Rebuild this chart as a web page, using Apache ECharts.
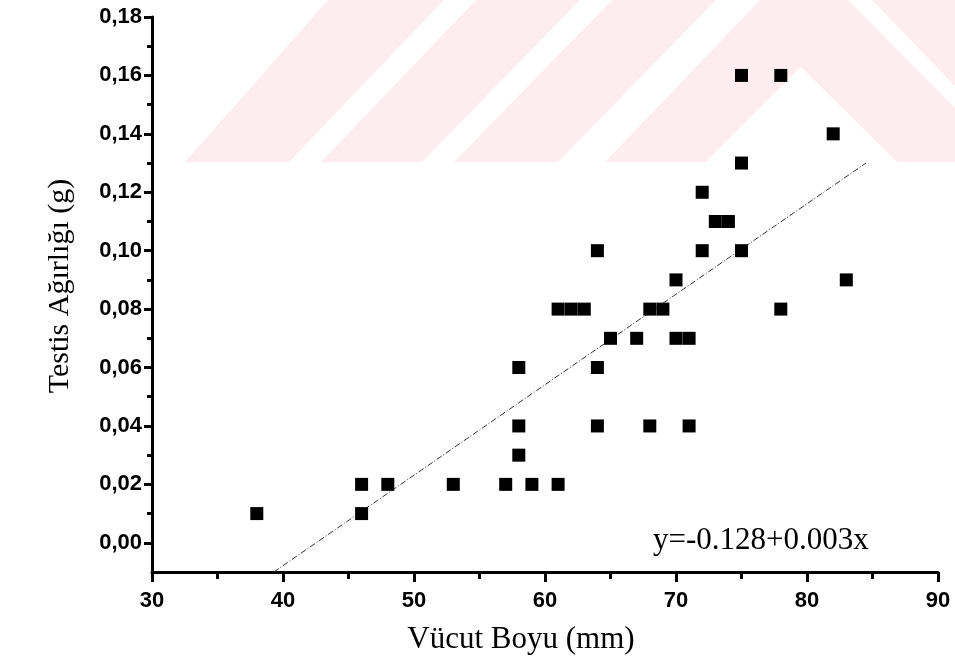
<!DOCTYPE html>
<html>
<head>
<meta charset="utf-8">
<script src="https://cdn.jsdelivr.net/npm/echarts@6/dist/echarts.min.js"></script>
<style>
html,body{margin:0;padding:0;background:#fff;}
#chart{width:955px;height:666px;}
</style>
</head>
<body>
<div id="chart"></div>
<script>
// Data
var bodyLength = [38, 46, 46, 48, 53, 57, 58, 58, 58, 59, 61, 61, 62, 63, 64, 64, 64, 65, 67, 68, 68, 69, 70, 70, 71, 71, 72, 72, 73, 74, 75, 75, 75, 78, 78, 82, 83];
var testisWeight = [0.01, 0.01, 0.02, 0.02, 0.02, 0.02, 0.03, 0.04, 0.06, 0.02, 0.02, 0.08, 0.08, 0.08, 0.04, 0.06, 0.10, 0.07, 0.07, 0.04, 0.08, 0.08, 0.07, 0.09, 0.07, 0.04, 0.10, 0.12, 0.11, 0.11, 0.10, 0.13, 0.16, 0.16, 0.08, 0.14, 0.09];
// Regression line end points as drawn in the picture
var fitX = [39.3, 84.5];
var fitY = [-0.01, 0.13];
var yMajorTicks = [0, 0.02, 0.04, 0.06, 0.08, 0.10, 0.12, 0.14, 0.16, 0.18];
var yMinorTicks = [0.01, 0.03, 0.05, 0.07, 0.09, 0.11, 0.13, 0.15, 0.17];
var xTitle = 'Vücut Boyu (mm)';
var yTitle = 'Testis Ağırlığı (g)';
var equationText = 'y=-0.128+0.003x';

var points = bodyLength.map(function (x, i) { return [x, testisWeight[i]]; });
var fitLine = fitX.map(function (x, i) { return [x, fitY[i]]; });

var pink = '#fdedf0';
var chart = echarts.init(document.getElementById('chart'), null, {renderer: 'canvas'});
var tickFont = {fontFamily: 'Liberation Sans', fontWeight: 'bold', fontSize: 22, color: '#000'};

chart.setOption({
  animation: false,
  backgroundColor: '#fff',
  grid: {left: 152, right: 17, top: 17, bottom: 94, containLabel: false},
  graphic: [
    {type: 'polygon', z: -10, silent: true, shape: {points: [[185,162],[289,162],[444,0],[328,0]]}, style: {fill: pink}},
    {type: 'polygon', z: -10, silent: true, shape: {points: [[321,162],[422,162],[580,0],[476,0]]}, style: {fill: pink}},
    {type: 'polygon', z: -10, silent: true, shape: {points: [[454,162],[558,162],[716,0],[612,0]]}, style: {fill: pink}},
    {type: 'polygon', z: -10, silent: true, shape: {points: [[605,162],[760,0],[848,0],[955,108],[955,162],[897,162],[801,67],[706,162]]}, style: {fill: pink}},
    {type: 'polygon', z: -10, silent: true, shape: {points: [[872,0],[955,0],[955,86]]}, style: {fill: pink}},
    {type: 'text', x: 60, y: 286, rotation: Math.PI / 2, style: {text: yTitle, fontFamily: 'Liberation Serif', fontSize: 30, fill: '#000', textAlign: 'center', textVerticalAlign: 'middle'}},
    {type: 'text', x: 521, y: 640, style: {text: xTitle, fontFamily: 'Liberation Serif', fontSize: 31, fill: '#000', textAlign: 'center', textVerticalAlign: 'middle'}},
    {type: 'text', x: 653, y: 541, style: {text: equationText, fontFamily: 'Liberation Serif', fontSize: 31, fill: '#000', textAlign: 'left', textVerticalAlign: 'middle'}}
  ],
  xAxis: {
    type: 'value', min: 30, max: 90, interval: 10,
    axisLine: {show: true, onZero: false, lineStyle: {color: '#000', width: 3}},
    axisTick: {show: true, inside: false, length: 10, lineStyle: {color: '#000', width: 3}},
    minorTick: {show: true, splitNumber: 2, length: 7, lineStyle: {color: '#000', width: 3}},
    axisLabel: Object.assign({margin: 18}, tickFont),
    splitLine: {show: false}, minorSplitLine: {show: false}
  },
  yAxis: [
    {
      type: 'value', min: -0.01, max: 0.18,
      axisLine: {show: true, onZero: false, lineStyle: {color: '#000', width: 3}},
      axisTick: {show: true, inside: false, length: 8, customValues: yMajorTicks, lineStyle: {color: '#000', width: 3}},
      axisLabel: Object.assign({margin: 10, customValues: yMajorTicks, formatter: function (v) { return v.toFixed(2).replace('.', ','); }}, tickFont),
      splitLine: {show: false}
    },
    {
      type: 'value', min: -0.01, max: 0.18, position: 'left',
      axisLine: {show: false},
      axisTick: {show: true, inside: false, length: 5, customValues: yMinorTicks, lineStyle: {color: '#000', width: 3}},
      axisLabel: {show: false},
      splitLine: {show: false}
    }
  ],
  series: [
    {
      type: 'line', data: fitLine, showSymbol: false, symbol: 'none', yAxisIndex: 0,
      lineStyle: {color: '#333', width: 1, type: [6, 2, 1, 2]}, z: 2
    },
    {
      type: 'scatter', data: points, symbol: 'rect', symbolSize: 13, yAxisIndex: 0,
      itemStyle: {color: '#000', opacity: 1}, z: 3
    }
  ]
});
</script>
</body>
</html>
